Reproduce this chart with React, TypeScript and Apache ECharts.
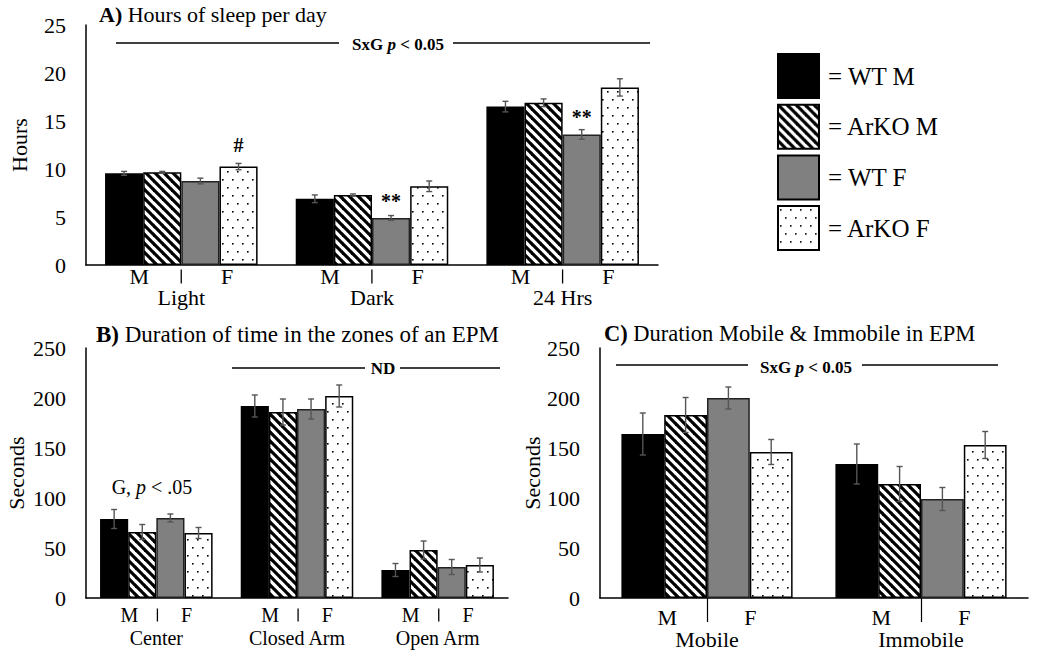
import React, { useEffect, useRef } from 'react';
import * as echarts from 'echarts';

const FONT = 'Liberation Serif';
const groups = ['WT M', 'ArKO M', 'WT F', 'ArKO F'];

// Panel A: hours of sleep per day
const sleepCategories = ['Light', 'Dark', '24 Hrs'];
const sleepWTM = [9.55, 6.9, 16.5];
const sleepArKOM = [9.65, 7.3, 16.9];
const sleepWTF = [8.75, 4.9, 13.6];
const sleepArKOF = [10.25, 8.2, 18.5];
const sleepErrWTM = [0.2, 0.4, 0.55];
const sleepErrArKOM = [0.1, 0.1, 0.4];
const sleepErrWTF = [0.3, 0.25, 0.5];
const sleepErrArKOF = [0.33, 0.55, 0.9];
const sleepMarksWTF = ['', '**', '**'];
const sleepMarksArKOF = ['#', '', ''];
const sleepTicks = [0, 5, 10, 15, 20, 25];

// Panel B: duration in EPM zones
const zoneCategories = ['Center', 'Closed Arm', 'Open Arm'];
const zoneWTM = [79, 192, 28];
const zoneArKOM = [66, 186, 48];
const zoneWTF = [80, 189, 31];
const zoneArKOF = [65, 202, 33];
const zoneErrWTM = [9.5, 11, 6.5];
const zoneErrArKOM = [7.5, 13, 9];
const zoneErrWTF = [4, 10, 7.5];
const zoneErrArKOF = [5.5, 11, 7];

// Panel C: mobile / immobile
const mobCategories = ['Mobile', 'Immobile'];
const mobWTM = [164, 134];
const mobArKOM = [183, 114];
const mobWTF = [200, 99];
const mobArKOF = [146, 153];
const mobErrWTM = [21, 20];
const mobErrArKOM = [17.5, 17.5];
const mobErrWTF = [11, 11.5];
const mobErrArKOF = [12.5, 13.5];

const secondsTicks = [0, 50, 100, 150, 200, 250];

function makeStripe() {
  const s = 9;
  const c = document.createElement('canvas');
  c.width = s;
  c.height = s;
  const ctx = c.getContext('2d')!;
  ctx.fillStyle = '#fff';
  ctx.fillRect(0, 0, s, s);
  ctx.strokeStyle = '#000';
  ctx.lineWidth = 3.2;
  for (let k = -1; k <= 1; k++) {
    ctx.beginPath();
    ctx.moveTo(k * s - 1, -1);
    ctx.lineTo(k * s + s + 1, s + 1);
    ctx.stroke();
  }
  return { image: c.toDataURL(), repeat: 'repeat', imageWidth: s, imageHeight: s };
}

function makeDots() {
  const w = 10;
  const h = 16;
  const c = document.createElement('canvas');
  c.width = w;
  c.height = h;
  const ctx = c.getContext('2d')!;
  ctx.fillStyle = '#fff';
  ctx.fillRect(0, 0, w, h);
  ctx.fillStyle = '#000';
  ctx.fillRect(2, 3, 1.6, 1.6);
  ctx.fillRect(7, 11, 1.6, 1.6);
  return { image: c.toDataURL(), repeat: 'repeat', imageWidth: w, imageHeight: h };
}

function barSeries(p: number, values: number[][], marks: string[][], fills: any[]) {
  return groups.map((name, s) => ({
    type: 'bar',
    name,
    xAxisIndex: p,
    yAxisIndex: p,
    barGap: '0%',
    barCategoryGap: '20%',
    itemStyle: { color: fills[s], borderColor: s === 2 ? '#222' : '#000', borderWidth: 1.5 },
    data: values[s].map((v, c) => {
      const m = marks[s] ? marks[s][c] : '';
      if (!m) return v;
      return {
        value: v,
        label: {
          show: true,
          position: 'top',
          formatter: m,
          distance: m === '#' ? 12 : 7,
          fontSize: 20,
          fontWeight: 'bold',
          fontFamily: FONT,
          color: '#000',
        },
      };
    }),
  }));
}

function errorSeries(p: number, values: number[][], errs: number[][]) {
  const data: number[][] = [];
  values.forEach((vals, s) => vals.forEach((v, c) => data.push([c, v, errs[s][c], s])));
  return {
    type: 'custom',
    xAxisIndex: p,
    yAxisIndex: p,
    z: 5,
    silent: true,
    encode: { x: 0, y: 1 },
    data,
    renderItem: (params: any, api: any) => {
      const c = api.value(0);
      const v = api.value(1);
      const e = api.value(2);
      const s = api.value(3);
      const band = api.size([1, 0])[0];
      const base = api.coord([c, v]);
      const x = base[0] - band * 0.4 + band * 0.2 * (s + 0.5);
      const y1 = api.coord([c, v + e])[1];
      const y2 = api.coord([c, v - e])[1];
      const w = 3;
      const style = { stroke: '#555', lineWidth: 1.4 };
      return {
        type: 'group',
        children: [
          { type: 'line', shape: { x1: x, y1, x2: x, y2 }, style },
          { type: 'line', shape: { x1: x - w, y1, x2: x + w, y2: y1 }, style },
          { type: 'line', shape: { x1: x - w, y1: y2, x2: x + w, y2 }, style },
        ],
      };
    },
  };
}

function catAxis(
  p: number,
  data: string[],
  fontSize: number,
  sepHeight: number,
  gapL: number,
  gapR: number,
  margin: number,
  l1: number,
  l2: number,
  tick: boolean
) {
  const base = { fontSize, fontFamily: FONT, color: '#000' };
  return {
    type: 'category',
    gridIndex: p,
    data,
    axisLine: { lineStyle: { color: '#000', width: 1.5 } },
    axisTick: tick
      ? { show: true, alignWithLabel: true, length: 24, lineStyle: { color: '#000', width: 1.2 } }
      : { show: false },
    axisLabel: {
      interval: 0,
      margin,
      formatter: (v: string) => `{m|M}{g| }{s| }{h| }{f|F}\n{n|${v}}`,
      rich: {
        m: { ...base, lineHeight: l1 },
        g: { ...base, lineHeight: l1, width: gapL },
        s: sepHeight > 0
          ? { ...base, lineHeight: l1, width: 1.3, height: sepHeight, backgroundColor: '#000' }
          : { ...base, lineHeight: l1, width: 1.3 },
        h: { ...base, lineHeight: l1, width: gapR },
        f: { ...base, lineHeight: l1 },
        n: { ...base, lineHeight: l2 },
      },
    },
  };
}

function valAxis(p: number, ticks: number[], name: string, nameGap: number) {
  return {
    type: 'value',
    gridIndex: p,
    min: ticks[0],
    max: ticks[ticks.length - 1],
    interval: ticks[1] - ticks[0],
    name,
    nameLocation: 'middle',
    nameGap,
    nameTextStyle: { fontSize: 22, fontFamily: FONT, color: '#000' },
    axisLine: { show: true, lineStyle: { color: '#000', width: 1.5 } },
    axisTick: { show: false },
    splitLine: { show: false },
    axisLabel: { fontSize: 22, fontFamily: FONT, color: '#000', margin: 20 },
  };
}

function sigText(x: number, y: number, parts: [string, string][], fontSize: number) {
  const rich: any = {
    b: { fontSize, fontFamily: FONT, fontWeight: 'bold', fill: '#000' },
    i: { fontSize, fontFamily: FONT, fontWeight: 'bold', fontStyle: 'italic', fill: '#000' },
    r: { fontSize, fontFamily: FONT, fill: '#000' },
    ri: { fontSize, fontFamily: FONT, fontStyle: 'italic', fill: '#000' },
  };
  return {
    type: 'text',
    x,
    y,
    style: {
      text: parts.map(([k, t]) => `{${k}|${t}}`).join(''),
      rich,
      align: 'center',
      verticalAlign: 'middle',
    },
  };
}

function hline(x1: number, x2: number, y: number) {
  return { type: 'line', shape: { x1, y1: y, x2, y2: y }, style: { stroke: '#000', lineWidth: 1.3 } };
}

export default function App() {
  const ref = useRef<HTMLDivElement>(null);
  useEffect(() => {
    if (!ref.current) return;
    const chart = echarts.init(ref.current, undefined, { renderer: 'svg' });
    const fills = ['#000', makeStripe(), '#808080', makeDots()];

    const sleepVals = [sleepWTM, sleepArKOM, sleepWTF, sleepArKOF];
    const sleepErrs = [sleepErrWTM, sleepErrArKOM, sleepErrWTF, sleepErrArKOF];
    const zoneVals = [zoneWTM, zoneArKOM, zoneWTF, zoneArKOF];
    const zoneErrs = [zoneErrWTM, zoneErrArKOM, zoneErrWTF, zoneErrArKOF];
    const mobVals = [mobWTM, mobArKOM, mobWTF, mobArKOF];
    const mobErrs = [mobErrWTM, mobErrArKOM, mobErrWTF, mobErrArKOF];

    const titleStyle = (size: number) => ({
      fontSize: size,
      fontFamily: FONT,
      fontWeight: 'normal',
      color: '#000',
      rich: { b: { fontSize: size, fontFamily: FONT, fontWeight: 'bold', color: '#000' } },
    });

    const option: any = {
      animation: false,
      backgroundColor: '#fff',
      textStyle: { fontFamily: FONT },
      title: [
        { text: '{b|A)} Hours of sleep per day', left: 99, top: 3, padding: 0, textStyle: titleStyle(22) },
        { text: '{b|B)} Duration of time in the zones of an EPM', left: 96, top: 323, padding: 0, textStyle: titleStyle(23) },
        { text: '{b|C)} Duration Mobile & Immobile in EPM', left: 604, top: 322, padding: 0, textStyle: titleStyle(22.5) },
      ],
      legend: {
        data: groups,
        orient: 'vertical',
        left: 777,
        top: 53,
        padding: 0,
        icon: 'rect',
        itemWidth: 41,
        itemHeight: 44,
        itemGap: 4.7,
        selectedMode: false,
        formatter: '= {name}',
        itemStyle: { borderColor: '#000', borderWidth: 2 },
        textStyle: { fontSize: 25, fontFamily: FONT, color: '#000', padding: [0, 0, 0, 4] },
      },
      grid: [
        { left: 85, top: 25, width: 573, height: 240 },
        { left: 86, top: 348, width: 422, height: 250 },
        { left: 600, top: 348, width: 428, height: 250 },
      ],
      xAxis: [
        catAxis(0, sleepCategories, 22, 14, 31.5, 39, 1, 21, 21),
        catAxis(1, zoneCategories, 20, 13, 18.5, 23, 4, 26, 20),
        catAxis(2, mobCategories, 22, 0, 33, 33, 8, 22, 22, true),
      ],
      yAxis: [
        valAxis(0, sleepTicks, 'Hours', 56),
        valAxis(1, secondsTicks, 'Seconds', 59),
        valAxis(2, secondsTicks, 'Seconds', 57),
      ],
      series: [
        ...barSeries(0, sleepVals, [[], [], sleepMarksWTF, sleepMarksArKOF], fills),
        errorSeries(0, sleepVals, sleepErrs),
        ...barSeries(1, zoneVals, [[], [], [], []], fills),
        errorSeries(1, zoneVals, zoneErrs),
        ...barSeries(2, mobVals, [[], [], [], []], fills),
        errorSeries(2, mobVals, mobErrs),
      ],
      graphic: [
        hline(116, 339, 43),
        hline(453, 650, 43),
        sigText(398, 44, [['b', 'SxG '], ['i', 'p'], ['b', ' < 0.05']], 17),
        hline(232, 365, 368),
        hline(400, 500, 368),
        sigText(383, 368, [['b', 'ND']], 17),
        hline(616, 748, 365),
        hline(862, 998, 365),
        sigText(806, 367, [['b', 'SxG '], ['i', 'p'], ['b', ' < 0.05']], 17),
        sigText(152, 487, [['r', 'G, '], ['ri', 'p'], ['r', ' < .05']], 20),
      ],
    };
    chart.setOption(option);
    return () => chart.dispose();
  }, []);
  return (
    <div
      ref={ref}
      style={{ position: 'absolute', left: 0, top: 0, width: 1050, height: 659, background: '#fff' }}
    />
  );
}
